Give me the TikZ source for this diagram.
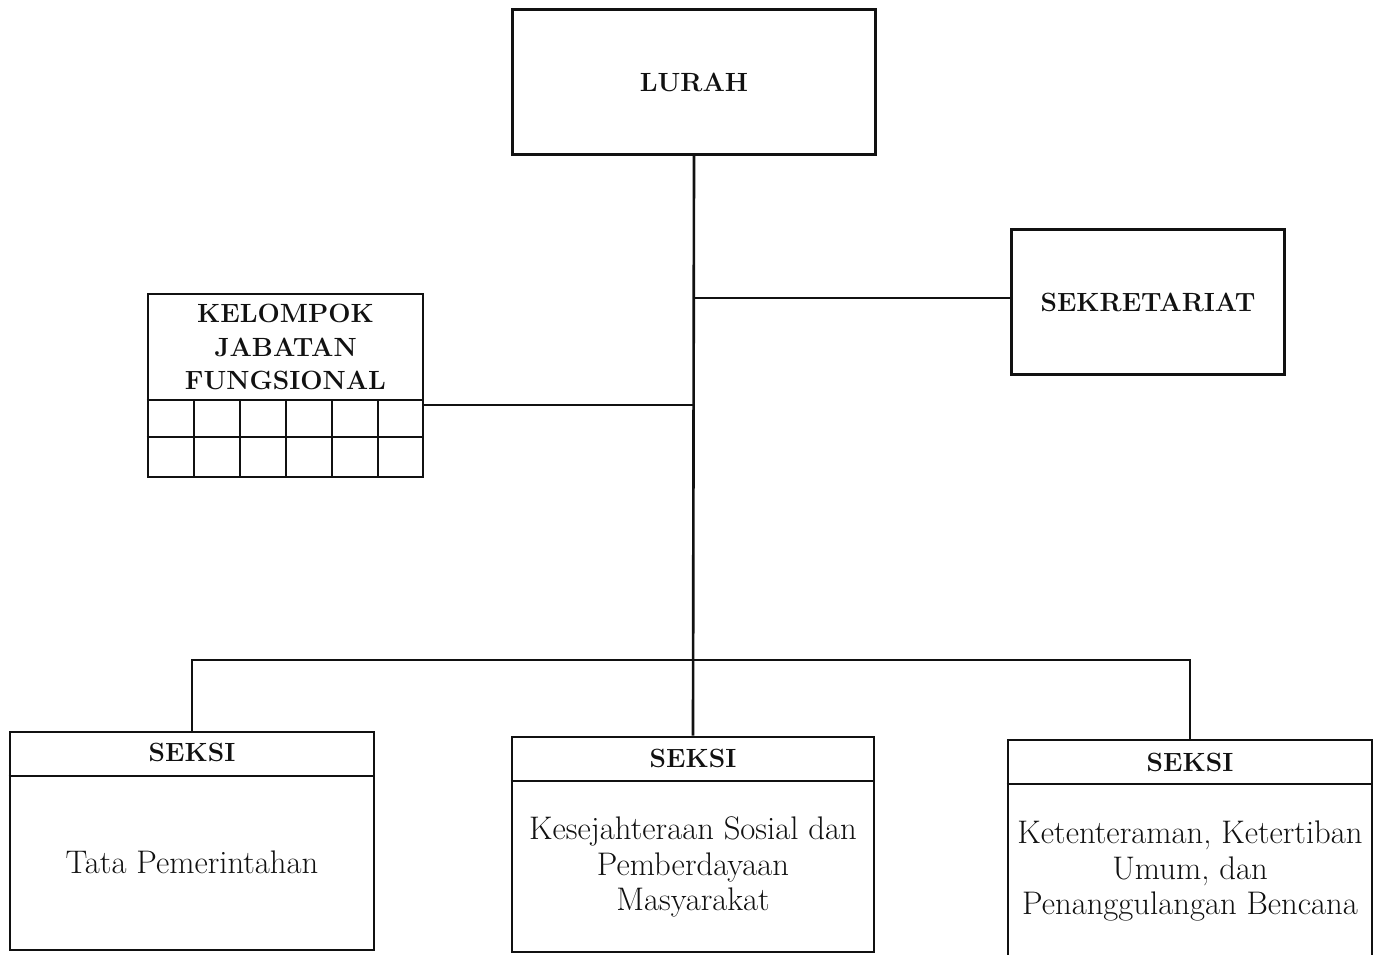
\documentclass[tikz,border=0pt]{standalone}
\usepackage{tikz}
\usetikzlibrary{calc,positioning}
\definecolor{tinta}{HTML}{111111}
\tikzset{kotak/.style={rectangle,draw=tinta,line width=1.5pt,inner sep=0pt},
  judul/.style={font=\fontsize{15}{19}\selectfont\bfseries,text=tinta,align=center},
  isi/.style={font=\fontsize{18.6}{20}\selectfont,text=tinta,align=center},
  garis/.style={draw=tinta,line width=1.5pt}}

\begin{document}
\begin{tikzpicture}[x=0.02cm,y=-0.02cm]
\useasboundingbox (0,0) rectangle (1377,955);
% kotak utama
\node[kotak,minimum width=7.26cm,minimum height=2.9cm] (lurah) at (694,82) {};
\node[judul] at (694,82) {LURAH};
\node[kotak,minimum width=5.46cm,minimum height=2.9cm] (sekre) at (1148,302) {};
\node[judul] at (1148,302) {SEKRETARIAT};
\node[kotak,minimum width=5.5cm,minimum height=3.66cm] (kel) at (285.5,385.5) {};
\node[judul] at (285.5,347) {KELOMPOK\\JABATAN\\FUNGSIONAL};
\draw[garis] (kel.west |- 0,400) -- (kel.east |- 0,400);
\draw[garis] (kel.west |- 0,437) -- (kel.east |- 0,437);
\foreach \a in {194,240,286,332,378}{\draw[garis] (\a,400) -- (\a,477);}
% seksi
\node[kotak,minimum width=7.28cm,minimum height=4.36cm] (seksi1) at (192,841) {};
\node[kotak,minimum width=7.24cm,minimum height=4.3cm] (seksi2) at (693,844.5) {};
\node[kotak,minimum width=7.28cm,minimum height=4.4cm] (seksi3) at (1190,850) {};
\draw[garis] (seksi1.west |- 0,776) -- (seksi1.east |- 0,776);
\draw[garis] (seksi2.west |- 0,781) -- (seksi2.east |- 0,781);
\draw[garis] (seksi3.west |- 0,784) -- (seksi3.east |- 0,784);
\node[judul] at (192,752) {SEKSI};
\node[judul] at (693,758) {SEKSI};
\node[judul] at (1190,762) {SEKSI};
\node[isi] at (192,862) {Tata Pemerintahan};
\node[isi] at (693,867) {Kesejahteraan Sosial dan\\Pemberdayaan\\Masyarakat};
\node[isi] at (1190,871) {Ketenteraman, Ketertiban\\Umum, dan\\Penanggulangan Bencana};
% garis hubung
\coordinate (j1) at (693,298);
\coordinate (j2) at (693,405);
\coordinate (bus) at (693,660);
\draw[garis] (lurah.south) -- (seksi2.north);
\draw[garis] (j1) -- (j1 -| sekre.west);
\draw[garis] (j2) -- (j2 -| kel.east);
\draw[garis] (seksi1.north) |- (bus) -| (seksi3.north);
\end{tikzpicture}
\end{document}
